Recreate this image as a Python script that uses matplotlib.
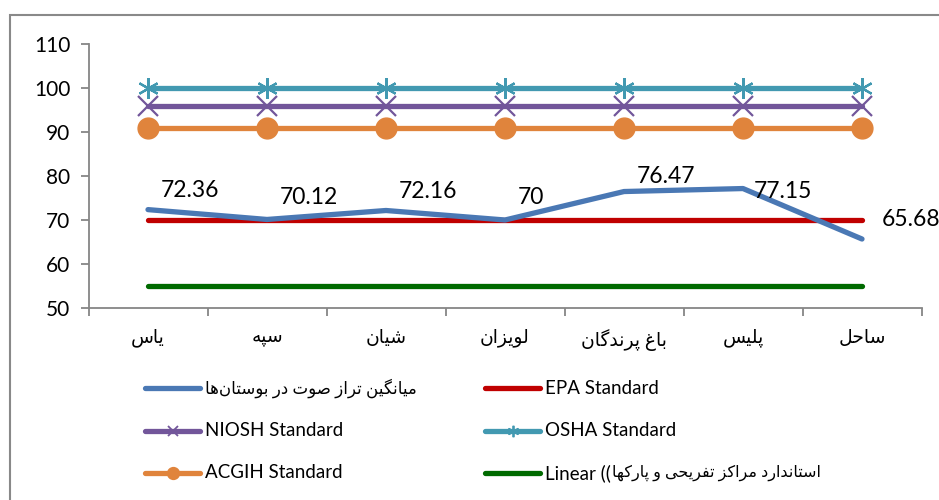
import matplotlib
matplotlib.use("Agg")
import matplotlib.pyplot as plt
from matplotlib.lines import Line2D
from matplotlib.patches import Rectangle

# Persian letters -> (isolated, final, initial, medial) presentation forms
FORMS = {
    "\u0627": ("\uFE8D", "\uFE8E", None, None),
    "\u0628": ("\uFE8F", "\uFE90", "\uFE91", "\uFE92"),
    "\u067E": ("\uFB56", "\uFB57", "\uFB58", "\uFB59"),
    "\u062A": ("\uFE95", "\uFE96", "\uFE97", "\uFE98"),
    "\u062D": ("\uFEA1", "\uFEA2", "\uFEA3", "\uFEA4"),
    "\u062F": ("\uFEA9", "\uFEAA", None, None),
    "\u0631": ("\uFEAD", "\uFEAE", None, None),
    "\u0632": ("\uFEAF", "\uFEB0", None, None),
    "\u0633": ("\uFEB1", "\uFEB2", "\uFEB3", "\uFEB4"),
    "\u0634": ("\uFEB5", "\uFEB6", "\uFEB7", "\uFEB8"),
    "\u0635": ("\uFEB9", "\uFEBA", "\uFEBB", "\uFEBC"),
    "\u063A": ("\uFECD", "\uFECE", "\uFECF", "\uFED0"),
    "\u0641": ("\uFED1", "\uFED2", "\uFED3", "\uFED4"),
    "\u06A9": ("\uFB8E", "\uFB8F", "\uFB90", "\uFB91"),
    "\u06AF": ("\uFB92", "\uFB93", "\uFB94", "\uFB95"),
    "\u0644": ("\uFEDD", "\uFEDE", "\uFEDF", "\uFEE0"),
    "\u0645": ("\uFEE1", "\uFEE2", "\uFEE3", "\uFEE4"),
    "\u0646": ("\uFEE5", "\uFEE6", "\uFEE7", "\uFEE8"),
    "\u0647": ("\uFEE9", "\uFEEA", "\uFEEB", "\uFEEC"),
    "\u0648": ("\uFEED", "\uFEEE", None, None),
    "\u06CC": ("\uFBFC", "\uFBFD", "\uFBFE", "\uFBFF"),
}


def fa(text):
    # crude shaping + reversal so matplotlib draws persian right
    out = []
    for i, c in enumerate(text):
        if c not in FORMS:
            out.append(c)
            continue
        prev = text[i - 1] if i > 0 else None
        nxt = text[i + 1] if i + 1 < len(text) else None
        jp = prev in FORMS and FORMS[prev][2] is not None
        jn = nxt in FORMS and FORMS[c][2] is not None
        iso, fin, ini, med = FORMS[c]
        if jp and jn:
            out.append(med)
        elif jp:
            out.append(fin)
        elif jn:
            out.append(ini)
        else:
            out.append(iso)
    return "".join(out).replace("\u200c", "")[::-1]


parks = ["یاس", "سپه", "شیان", "لویزان", "باغ پرندگان", "پلیس", "ساحل"]
avg_level = [72.36, 70.12, 72.16, 70, 76.47, 77.15, 65.68]
epa = [70] * 7
niosh = [96] * 7
osha = [100] * 7
acgih = [91] * 7
recreation = [55] * 7
label_offsets = [(9, 14), (9, 16), (9, 14), (9, 16), (9, 11), (8, -2), (14, 14)]

avg_name = "میانگین تراز صوت در بوستان\u200cها"
linear_name = "استاندارد مراکز تفریحی و پارکها"

plt.rcParams["font.family"] = ["Lato", "DejaVu Sans"]

W, H = 939, 500
fig = plt.figure(figsize=(W / 100, H / 100), dpi=100)
ax = fig.add_axes([88.5 / W, 1 - 308 / H, 833 / W, 264 / H])

x = range(len(parks))
lw = 3.8
l_avg, = ax.plot(x, avg_level, color="#4A78B4", lw=lw, solid_capstyle="round", zorder=6)
l_epa, = ax.plot(x, epa, color="#C00000", lw=lw, solid_capstyle="round", zorder=5)
l_niosh, = ax.plot(x, niosh, color="#72569A", lw=lw, marker="x", ms=14, mew=1.6,
                   solid_capstyle="round")
l_osha, = ax.plot(x, osha, color="#4299B1", lw=lw, marker=(6, 2, 0), ms=15, mew=1.6,
                  solid_capstyle="round")
l_acgih, = ax.plot(x, acgih, color="#E0843C", lw=lw, marker="o", ms=15,
                   solid_capstyle="round")
l_lin, = ax.plot(x, recreation, color="#006A00", lw=lw, solid_capstyle="round")

for i, v in enumerate(avg_level):
    ax.annotate(f"{v:g}", (i, v), xytext=label_offsets[i], textcoords="offset points",
                ha="left", va="center", fontsize=16.5, color="black", zorder=7)

ax.set_xlim(-0.5, len(parks) - 0.5)
ax.set_ylim(50, 110)
ax.set_yticks(range(50, 111, 10))
ax.set_xticks([i - 0.5 for i in range(len(parks) + 1)])
ax.set_xticklabels([])
ax.set_xticks(list(x), minor=True)
ax.set_xticklabels([fa(p) for p in parks], minor=True)
ax.tick_params(axis="x", which="minor", length=0, pad=15, labelsize=13.5)
ax.tick_params(axis="x", which="major", length=6, width=1.3, color="#868686")
ax.tick_params(axis="y", length=6, width=1.3, color="#868686", pad=7, labelsize=15)
for s in ["top", "right"]:
    ax.spines[s].set_visible(False)
for s in ["left", "bottom"]:
    ax.spines[s].set_color("#868686")
    ax.spines[s].set_linewidth(1.3)

# hand-placed legend, two columns
entries = [
    (l_avg, fa(avg_name)), (l_epa, "EPA Standard"),
    (l_niosh, "NIOSH Standard"), (l_osha, "OSHA Standard"),
    (l_acgih, "ACGIH Standard"), (l_lin, "Linear (("),
]
cols = [145, 485]
rows = [388, 431, 473]
texts = []
for k, (ln, txt) in enumerate(entries):
    cx = cols[k % 2]
    cy = 1 - rows[k // 2] / H
    x0, x1 = cx / W, (cx + 55) / W
    fig.add_artist(Line2D([x0, x1], [cy, cy], transform=fig.transFigure,
                          color=ln.get_color(), lw=lw, solid_capstyle="round"))
    if ln.get_marker() not in (None, "None", ""):
        fig.add_artist(Line2D([(x0 + x1) / 2], [cy], transform=fig.transFigure,
                              color=ln.get_color(), lw=0, marker=ln.get_marker(),
                              ms=ln.get_markersize() * 0.55, mew=1.3))
    fs = 12 if ln is l_avg else 13.5
    texts.append(fig.text((cx + 60) / W, cy, txt, ha="left", va="center", fontsize=fs))
ax.annotate(fa(linear_name), xy=(1, 0.5), xycoords=texts[-1], xytext=(1, 0),
            textcoords="offset points", ha="left", va="center", fontsize=11.5,
            annotation_clip=False)

fig.add_artist(Rectangle((10 / W, -0.1), 1.2, 1 - 15 / H + 0.1, transform=fig.transFigure,
                         fill=False, edgecolor="#898989", lw=1.5))

fig.savefig("out.png", dpi=100)
